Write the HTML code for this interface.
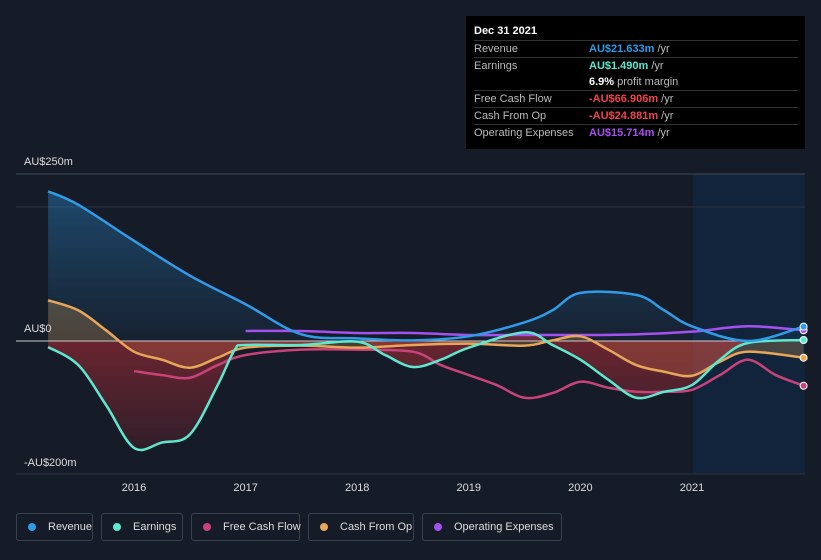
<!DOCTYPE html>
<html><head><meta charset="utf-8"><style>
body{margin:0;background:#151b27;font-family:"Liberation Sans",sans-serif;color:#fff;}
#wrap{position:relative;width:821px;height:560px;overflow:hidden;}
.tip{position:absolute;left:466px;top:16px;width:339px;height:133px;background:#000;font-size:11px;}
.tip .h{position:absolute;left:8px;top:9px;font-weight:bold;font-size:11px;}
.row{position:absolute;left:8px;width:324px;height:16px;border-top:1px solid #333;}
.row span{position:absolute;top:2px;}
.lab{left:0;color:#bbb}.val{left:115px;font-weight:bold}
.legend{position:absolute;top:513px;left:16px;display:flex;gap:8px;}
.leg{border:1px solid #3a4150;border-radius:3px;height:28px;box-sizing:border-box;display:flex;align-items:center;padding:0 0 0 11px;font-size:11px;color:#ddd;white-space:nowrap;flex:none;}
.dot{width:8px;height:8px;border-radius:50%;margin-right:12px;flex:none;}
</style></head><body><div id="wrap">
<svg id="svg" width="821" height="560" style="position:absolute;left:0;top:0"></svg>
<div class="tip">
<div class="h">Dec 31 2021</div>
<div class="row" style="top:24px"><span class="lab">Revenue</span><span class="val" style="color:#2e9ce8">AU$21.633m <span style="color:#bbb;font-weight:normal;position:static">/yr</span></span></div>
<div class="row" style="top:41px"><span class="lab">Earnings</span><span class="val" style="color:#5ee8cf">AU$1.490m <span style="color:#bbb;font-weight:normal;position:static">/yr</span></span></div>
<div class="row" style="top:58px;border-top:none"><span class="val" style="color:#fff">6.9% <span style="color:#bbb;font-weight:normal;position:static">profit margin</span></span></div>
<div class="row" style="top:74px"><span class="lab">Free Cash Flow</span><span class="val" style="color:#f0444c">-AU$66.906m <span style="color:#bbb;font-weight:normal;position:static">/yr</span></span></div>
<div class="row" style="top:91px"><span class="lab">Cash From Op</span><span class="val" style="color:#f0444c">-AU$24.881m <span style="color:#bbb;font-weight:normal;position:static">/yr</span></span></div>
<div class="row" style="top:108px"><span class="lab">Operating Expenses</span><span class="val" style="color:#a551f0">AU$15.714m <span style="color:#bbb;font-weight:normal;position:static">/yr</span></span></div>
</div>
<div class="legend">
<div class="leg" style="width:77px"><div class="dot" style="background:#2e9ce8"></div>Revenue</div>
<div class="leg" style="width:82px"><div class="dot" style="background:#5ee8cf"></div>Earnings</div>
<div class="leg" style="width:109px"><div class="dot" style="background:#c8437a"></div>Free Cash Flow</div>
<div class="leg" style="width:106px"><div class="dot" style="background:#e8a659"></div>Cash From Op</div>
<div class="leg" style="width:140px"><div class="dot" style="background:#a551f0"></div>Operating Expenses</div>
</div>
</div>
<script>
const revT=[2015.23,2015.5,2016,2016.5,2017,2017.5,2018,2018.5,2019,2019.5,2019.75,2020,2020.5,2020.75,2021,2021.5,2022];
const revV=[224,204,150,98,55,10,4,1,7,28,46,72,69,46,22,0,21.6];
const earT=[2015.23,2015.5,2015.75,2016,2016.25,2016.5,2016.75,2016.9,2017,2017.5,2018,2018.25,2018.5,2018.75,2019,2019.5,2019.75,2020,2020.25,2020.5,2020.75,2021,2021.25,2021.5,2022];
const earV=[-9,-36,-96,-160,-152,-140,-66,-14,-6,-6,-1,-21,-39,-28,-10,13,-6,-28,-58,-85,-76,-66,-28,-3,1.5];
const fcfT=[2016,2016.25,2016.5,2016.75,2017,2017.5,2018,2018.5,2018.75,2019,2019.25,2019.5,2019.75,2020,2020.25,2020.5,2020.75,2021,2021.25,2021.5,2021.75,2022];
const fcfV=[-45,-51,-55,-36,-21,-13,-13,-16,-36,-51,-66,-85,-78,-61,-70,-76,-76,-73,-51,-28,-51,-67];
const cfoT=[2015.23,2015.5,2015.75,2016,2016.25,2016.5,2016.75,2017,2017.5,2018,2018.5,2019,2019.5,2019.75,2020,2020.25,2020.5,2020.75,2021,2021.25,2021.5,2022];
const cfoV=[61,46,16,-16,-28,-40,-25,-10,-7,-10,-6,-4,-7,1,7,-13,-36,-46,-52,-31,-16,-25];
const opxT=[2017,2017.5,2018,2018.5,2019,2019.5,2020,2020.5,2021,2021.5,2022];
const opxV=[15,15,12,12,9,9,9,10,14,22,16];
const yTicks=[250,0,-200];const yTickLabels=["AU$250m","AU$0","-AU$200m"];
const xTicks=[2016,2017,2018,2019,2020,2021];
const X=t=>134+(t-2016)*111.6, Y=v=>341-v*0.668;
const S=document.getElementById('svg'),NS='http://www.w3.org/2000/svg';
function el(tag,a,p){const e=document.createElementNS(NS,tag);for(const k in a)e.setAttribute(k,a[k]);(p||S).appendChild(e);return e;}
S.innerHTML='<defs><linearGradient id="gb" x1="0" y1="0" x2="0" y2="1"><stop offset="0" stop-color="#2e9ce8" stop-opacity="0.35"/><stop offset="1" stop-color="#2e9ce8" stop-opacity="0.05"/></linearGradient><linearGradient id="gr" x1="0" y1="0" x2="0" y2="1"><stop offset="0" stop-color="#c8303a" stop-opacity="0.5"/><stop offset="1" stop-color="#c8303a" stop-opacity="0.15"/></linearGradient></defs>';
let r=el('rect',{x:693,y:174,width:112,height:300,fill:'#11263f',opacity:0.9});


[174,207,474].forEach(y=>{let l=el('line',{x1:16,x2:805,y1:y,y2:y,stroke:y==174?'#444b58':'#2a303c','stroke-width':1});

});
function path(T,V){const p=T.map((t,i)=>[X(t),Y(V[i])]);let d='M'+p[0][0]+','+p[0][1];
for(let i=0;i<p.length-1;i++){const p0=p[i-1]||p[i],p1=p[i],p2=p[i+1],p3=p[i+2]||p2;
d+=` C${p1[0]+(p2[0]-p0[0])/6},${p1[1]+(p2[1]-p0[1])/6} ${p2[0]-(p3[0]-p1[0])/6},${p2[1]-(p3[1]-p1[1])/6} ${p2[0]},${p2[1]}`;}return d;}
function area(T,V,fill,name){const d=path(T,V)+` L${X(T[T.length-1])},${Y(0)} L${X(T[0])},${Y(0)} Z`;let a=el('path',{d:d,fill:fill});

}
area(revT,revV,'url(#gb)','revenue-area');
area(cfoT,cfoV,'rgba(232,166,89,0.25)','cash-from-op-area');
area(earT,earV,'url(#gr)','earnings-area');
let z=el('line',{x1:16,x2:805,y1:Y(0),y2:Y(0),stroke:'#ccc','stroke-width':1});


const ser=[[opxT,opxV,'#a551f0','operating-expenses-line'],[fcfT,fcfV,'#c8437a','free-cash-flow-line'],[cfoT,cfoV,'#e8a659','cash-from-op-line'],[earT,earV,'#5ee8cf','earnings-line'],[revT,revV,'#2e9ce8','revenue-line']];
ser.forEach(s=>{let p=el('path',{d:path(s[0],s[1]),fill:'none',stroke:s[2],'stroke-width':2.5});


let c=el('circle',{cx:X(s[0][s[0].length-1]),cy:Y(s[1][s[1].length-1]),r:3.5,fill:s[2],stroke:'#fff','stroke-width':1});

});
yTicks.forEach((v,i)=>{let t=el('text',{x:24,y:Y(v)-9,fill:'#ddd','font-size':11});t.textContent=yTickLabels[i];
if(v==-200)t.setAttribute('y',466);

});
xTicks.forEach(v=>{let t=el('text',{x:X(v),y:491,fill:'#ddd','font-size':11,'text-anchor':'middle'});t.textContent=v;

});
</script></body></html>
